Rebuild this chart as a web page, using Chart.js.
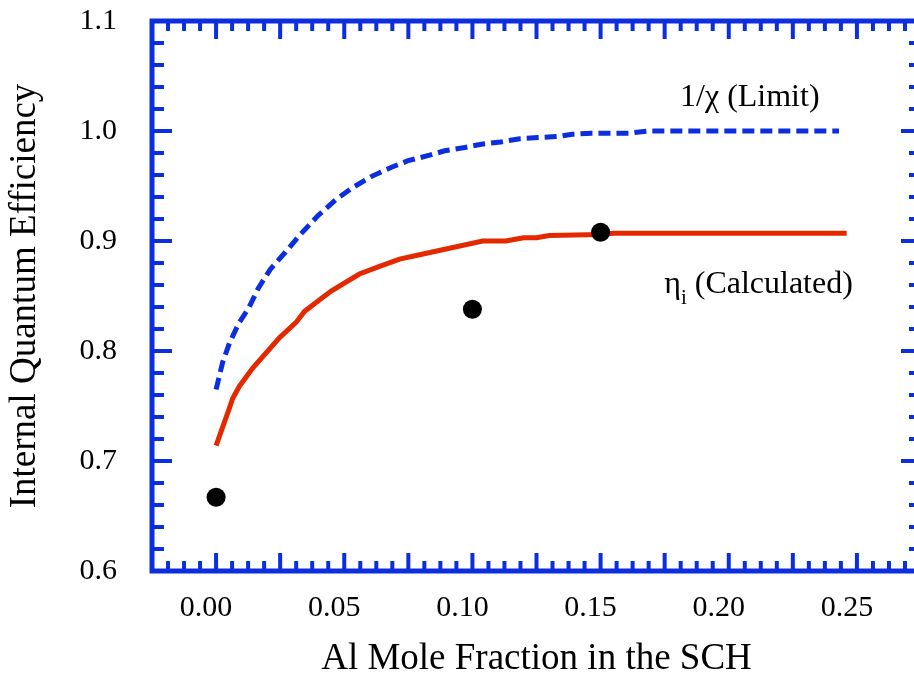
<!DOCTYPE html>
<html>
<head>
<meta charset="utf-8">
<style>
  html, body { margin: 0; padding: 0; overflow: hidden; background: #fff; }
  canvas { display: block; }
</style>
<script src="https://cdn.jsdelivr.net/npm/chart.js@4.4.1/dist/chart.umd.min.js"></script>
</head>
<body>
<canvas id="chart" width="914" height="683" style="width:914px;height:683px"></canvas>
<script>
// Calculated internal quantum efficiency (eta_i) vs Al mole fraction
const etaX = [0.000, 0.0052, 0.0065, 0.0091, 0.0143, 0.0247, 0.0312, 0.0345, 0.0390, 0.0449,
              0.0559, 0.0638, 0.0716, 0.0794, 0.1040, 0.1130, 0.1200, 0.1250, 0.1300, 0.1500,
              0.1550, 0.2460];
const etaY = [0.714, 0.748, 0.757, 0.768, 0.7845, 0.812, 0.826, 0.836, 0.844, 0.8545,
              0.870, 0.877, 0.8835, 0.8875, 0.900, 0.900, 0.903, 0.903, 0.905, 0.906,
              0.907, 0.907];

// Limiting efficiency 1/chi
const limitX = [0.000, 0.0026, 0.0052, 0.0088, 0.0127, 0.0166, 0.0212, 0.0271, 0.0329, 0.0397,
                0.0469, 0.0536, 0.0609, 0.0684, 0.0749, 0.0833, 0.0892, 0.0970, 0.1035, 0.1110,
                0.1185, 0.1256, 0.1330, 0.1390, 0.1465, 0.1610, 0.1686, 0.2430];
const limitY = [0.765, 0.790, 0.807, 0.825, 0.839, 0.8576, 0.8744, 0.890, 0.906, 0.923,
                0.938, 0.949, 0.959, 0.967, 0.973, 0.978, 0.982, 0.985, 0.988, 0.990,
                0.993, 0.994, 0.995, 0.997, 0.998, 0.998, 1.000, 1.000];

// Measured devices
const measX = [0.000, 0.100, 0.150];
const measY = [0.667, 0.838, 0.908];

// Axis ticks
const xTickValues = [0.00, 0.05, 0.10, 0.15, 0.20, 0.25];
const xTickLabels = ['0.00', '0.05', '0.10', '0.15', '0.20', '0.25'];
const yTickValues = [0.6, 0.7, 0.8, 0.9, 1.0, 1.1];
const yTickLabels = ['0.6', '0.7', '0.8', '0.9', '1.0', '1.1'];

// Curve annotations
const limitLabel = { x: 0.181, y: 1.023, text: '1/\u03C7 (Limit)' };
const etaLabel = { x: 0.1748, y: 0.8525, sym: '\u03B7', sub: 'i', text: ' (Calculated)' };

const BLUE = '#0b2ede';
const RED = '#e42800';
const SERIF = '"Liberation Serif", "Times New Roman", serif';
const PLOT_RIGHT = 921;   // right side of the plot box lies just past the canvas edge

const toPoints = (xs, ys) => xs.map((x, i) => ({ x: x, y: ys[i] }));

// Stretch the plot area (and the x scale with it) past the right canvas edge
const extendRight = {
  id: 'extendRight',
  afterLayout(chart) {
    const a = chart.chartArea;
    const xs = chart.scales.x;
    a.right = PLOT_RIGHT;
    a.width = a.right - a.left;
    xs.right = PLOT_RIGHT;
    xs.width = xs.right - xs.left;
    xs.configure();
    xs._labelItems = null;
  }
};

// Box frame with inward-pointing major/minor tick marks on all four sides
const framePlugin = {
  id: 'frame',
  afterDatasetsDraw(chart) {
    const { ctx, chartArea: a, scales: { x, y } } = chart;
    ctx.save();
    ctx.strokeStyle = BLUE;
    ctx.lineCap = 'butt';

    ctx.lineWidth = 4;
    const xStep = 0.00625;
    for (let i = Math.ceil(x.min / xStep - 1e-9); i * xStep <= x.max + 1e-9; i++) {
      const px = x.getPixelForValue(i * xStep);
      const len = (i % 4 === 0) ? 18 : 10;
      ctx.beginPath();
      ctx.moveTo(px, a.bottom); ctx.lineTo(px, a.bottom - len);
      ctx.moveTo(px, a.top); ctx.lineTo(px, a.top + len);
      ctx.stroke();
    }
    const yStep = 0.02;
    for (let j = Math.ceil(y.min / yStep - 1e-9); j * yStep <= y.max + 1e-9; j++) {
      const py = y.getPixelForValue(j * yStep);
      const len = (j % 5 === 0) ? 20 : 12;
      ctx.beginPath();
      ctx.moveTo(a.left, py); ctx.lineTo(a.left + len, py);
      ctx.moveTo(a.right, py); ctx.lineTo(a.right - len, py);
      ctx.stroke();
    }

    ctx.lineWidth = 5;
    ctx.strokeRect(a.left, a.top, a.right - a.left, a.bottom - a.top);

    // curve labels
    ctx.fillStyle = '#000';
    ctx.textBaseline = 'alphabetic';
    ctx.textAlign = 'left';
    ctx.font = '32px ' + SERIF;
    ctx.fillText(limitLabel.text, x.getPixelForValue(limitLabel.x), y.getPixelForValue(limitLabel.y));

    let ex = x.getPixelForValue(etaLabel.x);
    const ey = y.getPixelForValue(etaLabel.y);
    ctx.fillText(etaLabel.sym, ex, ey);
    ex += ctx.measureText(etaLabel.sym).width;
    ctx.font = '21px ' + SERIF;
    ctx.fillText(etaLabel.sub, ex, ey + 11);
    ex += ctx.measureText(etaLabel.sub).width;
    ctx.font = '32px ' + SERIF;
    ctx.fillText(etaLabel.text, ex, ey);
    ctx.restore();
  }
};

new Chart(document.getElementById('chart'), {
  type: 'scatter',
  data: {
    datasets: [
      {
        type: 'scatter',
        label: 'Measured',
        data: toPoints(measX, measY),
        pointRadius: 9.5,
        pointBackgroundColor: '#000',
        pointBorderWidth: 0,
        order: 0
      },
      {
        type: 'line',
        label: '\u03B7i (Calculated)',
        data: toPoints(etaX, etaY),
        borderColor: RED,
        borderWidth: 5,
        pointRadius: 0,
        tension: 0,
        fill: false,
        order: 1
      },
      {
        type: 'line',
        label: '1/\u03C7 (Limit)',
        data: toPoints(limitX, limitY),
        borderColor: BLUE,
        borderWidth: 5,
        borderDash: [12, 6],
        pointRadius: 0,
        tension: 0,
        fill: false,
        order: 2
      }
    ]
  },
  options: {
    responsive: false,
    animation: false,
    devicePixelRatio: 1,
    layout: { padding: { top: 21, right: 0, left: 0, bottom: 0 } },
    plugins: { legend: { display: false }, tooltip: { enabled: false } },
    scales: {
      x: {
        type: 'linear',
        min: -0.025,
        max: 0.275,
        grid: { display: false, drawTicks: false },
        border: { display: false },
        afterBuildTicks: s => { s.ticks = xTickValues.map(v => ({ value: v })); },
        afterFit: s => { s.height = 112; s.paddingLeft = 0; s.paddingRight = 0; },
        ticks: {
          autoSkip: false,
          maxRotation: 0,
          padding: 19,
          labelOffset: -10,
          color: '#000',
          font: { family: SERIF, size: 30 },
          callback: (v, i) => xTickLabels[i]
        },
        title: {
          display: true,
          text: 'Al Mole Fraction in the SCH',
          color: '#000',
          font: { family: SERIF, size: 37 },
          padding: { top: 0, bottom: 2 }
        }
      },
      y: {
        type: 'linear',
        min: 0.6,
        max: 1.1,
        grid: { display: false, drawTicks: false },
        border: { display: false },
        afterBuildTicks: s => { s.ticks = yTickValues.map(v => ({ value: v })); },
        afterFit: s => { s.width = 152; s.paddingTop = 0; s.paddingBottom = 0; },
        ticks: {
          autoSkip: false,
          padding: 35,
          color: '#000',
          font: { family: SERIF, size: 30 },
          callback: (v, i) => yTickLabels[i]
        },
        title: {
          display: true,
          text: 'Internal Quantum Efficiency',
          color: '#000',
          font: { family: SERIF, size: 37 },
          padding: { top: 3, bottom: 0 }
        }
      }
    }
  },
  plugins: [extendRight, framePlugin]
});
</script>
</body>
</html>
